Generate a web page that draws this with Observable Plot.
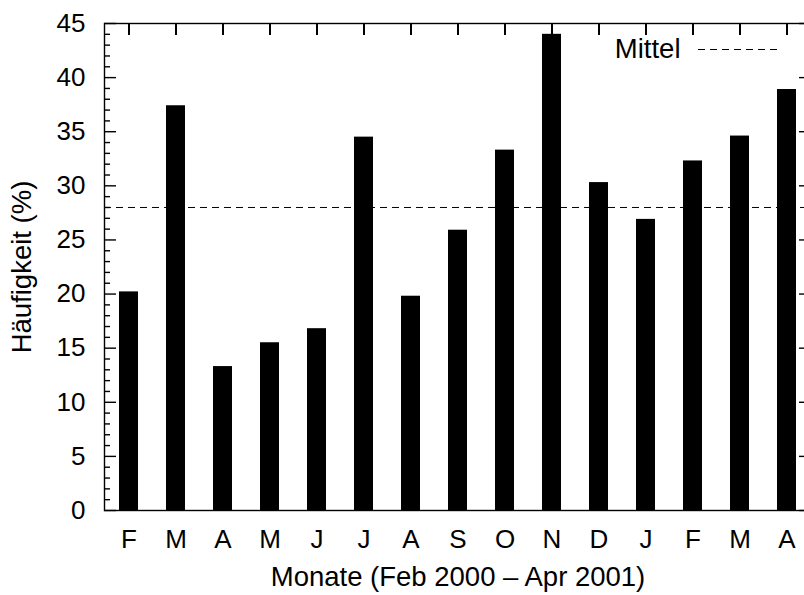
<!DOCTYPE html>
<html>
<head>
<meta charset="utf-8">
<script src="https://cdn.jsdelivr.net/npm/d3@7"></script>
<script src="https://cdn.jsdelivr.net/npm/@observablehq/plot@0.6"></script>
<style>
  html, body { margin: 0; padding: 0; background: white; overflow: hidden; }
</style>
</head>
<body>
<div id="chart"></div>
<script>
const months = ["F","M","A","M","J","J","A","S","O","N","D","J","F","M","A"];
const values = [20.2, 37.4, 13.3, 15.5, 16.8, 34.5, 19.8, 25.9, 33.3, 44.0, 30.3, 26.9, 32.3, 34.6, 38.9];
const meanValue = [28.0];
const yTicks = [0, 5, 10, 15, 20, 25, 30, 35, 40, 45];
const yMinor = d3.range(0, 46).filter(v => v % 5 !== 0);
const yLabel = "Häufigkeit (%)";
const xLabel = "Monate (Feb 2000 – Apr 2001)";
const legendLabel = "Mittel";

const data = values.map((v, i) => ({i, v}));
const idx = d3.range(months.length);

const W = 804, H = 595;
const mL = 104, mR = -7, mT = 23, mB = 85;
const frameW = W - mL - mR, frameH = H - mT - mB;

const plot = Plot.plot({
  width: W, height: H,
  marginLeft: mL, marginRight: mR, marginTop: mT, marginBottom: mB,
  style: {fontFamily: "'Liberation Sans', Arial, Helvetica, sans-serif", fontSize: "26px", color: "black", background: "white"},
  x: {type: "band", domain: idx, paddingInner: 0.586, paddingOuter: 0.293, align: 0.5, label: null},
  y: {domain: [0, 45], label: null},
  marks: [
    Plot.barY(data, {x: "i", y: "v", fill: "black"}),
    Plot.ruleY(meanValue, {stroke: "black", strokeWidth: 1, strokeDasharray: "7,5"}),
    Plot.ruleY(yTicks, {stroke: "black", strokeWidth: 1.4, insetRight: frameW - 12}),
    Plot.ruleY(yMinor, {stroke: "black", strokeWidth: 1.4, insetRight: frameW - 6}),
    Plot.ruleY(yTicks, {stroke: "black", strokeWidth: 1.4, insetLeft: frameW - 12}),
    Plot.ruleY(yMinor, {stroke: "black", strokeWidth: 1.4, insetLeft: frameW - 6}),
    Plot.ruleX(data, {x: "i", stroke: "black", strokeWidth: 2, insetBottom: frameH - 12}),
    Plot.axisY(yTicks, {tickSize: 0, tickPadding: 19, tickFormat: d => String(d), label: null}),
    Plot.axisX(idx, {tickSize: 0, tickPadding: 19, tickFormat: i => months[i], label: null}),
    Plot.frame({stroke: "black", strokeWidth: 1.4}),
    Plot.text([yLabel], {frameAnchor: "left", rotate: -90, dx: -82, fontSize: 27.5, textAnchor: "middle", lineAnchor: "middle"}),
    Plot.text([xLabel], {frameAnchor: "bottom", dy: 67, fontSize: 27.5, textAnchor: "middle", lineAnchor: "middle"}),
    Plot.text([legendLabel], {frameAnchor: "top-right", dx: 680 - (W - mR), dy: 49 - mT, fontSize: 27.5, textAnchor: "end", lineAnchor: "middle"})
  ]
});

// legend sample line (dashed) for "Mittel"
const svg = d3.select(plot);
svg.append("line")
  .attr("x1", W - mR - 113).attr("x2", W - mR - 33)
  .attr("y1", 49.5).attr("y2", 49.5)
  .attr("stroke", "black").attr("stroke-width", 1)
  .attr("stroke-dasharray", "7,5");

document.getElementById("chart").appendChild(plot);
</script>
</body>
</html>
